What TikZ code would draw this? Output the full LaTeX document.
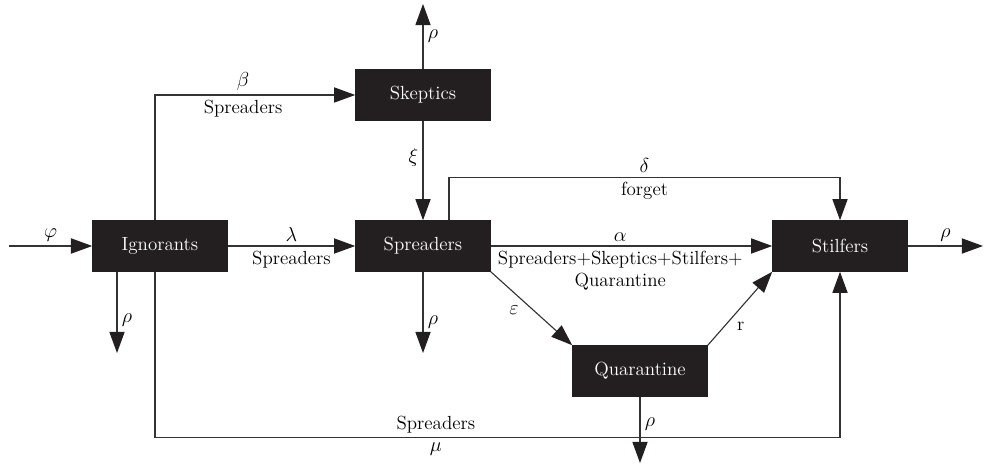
\documentclass[tikz,border=0pt]{standalone}
\usepackage{amsmath}
\usepackage{tikz}
\usetikzlibrary{calc,arrows.meta}
\definecolor{boxfill}{HTML}{231F20}
\definecolor{linegray}{HTML}{333333}

\begin{document}
\begin{tikzpicture}[x=0.025cm,y=-0.025cm,
    font=\fontsize{13.5}{16}\selectfont,
    comp/.style={fill=boxfill,text=white,minimum width=3.375cm,minimum height=1.275cm,inner sep=0pt},
    flow/.style={draw=linegray,line width=0.8pt,-{Triangle[length=0.53cm,width=0.38cm,color=boxfill]}},
    lab/.style={inner sep=3pt}]

        \useasboundingbox (0,0) rectangle (984,464);

        % Les compartiments
        \node[comp] (ign) at (160,246) {Ignorants};
        \node[comp] (skep) at (423,95) {Skeptics};
        \node[comp] (spr) at (423,246) {Spreaders};
        \node[comp] (stil) at (840,246) {Stilfers};
        \node[comp] (quar) at (640,371) {Quarantine};

        % Extrémités libres des flèches
        \coordinate (in) at (9,246);
        \coordinate (out) at (983,246);
        \coordinate (ign-d) at (117,353);
        \coordinate (spr-d) at (423,353);
        \coordinate (skep-u) at (423,4);
        \coordinate (quar-d) at (640,463);

        % Entrée et sorties
        \draw[flow] (in) -- (ign) node[lab,midway,above] {$\varphi$};
        \draw[flow] (ign.south -| ign-d) -- (ign-d) node[lab,pos=0.6,right] {$\rho$};
        \draw[flow] (skep) -- (skep-u) node[lab,midway,right] {$\rho$};
        \draw[flow] (spr) -- (spr-d) node[lab,pos=0.62,right] {$\rho$};
        \draw[flow] (quar) -- (quar-d) node[lab,pos=0.42,right] {$\rho$};
        \draw[flow] (stil) -- (out) node[lab,midway,above] {$\rho$};

        % Transitions entre compartiments
        \draw[flow] ($(ign.north)+(-5,0)$) |- (skep.west)
            node[lab,pos=0.72,above] {$\beta$} node[lab,pos=0.72,below] {Spreaders};
        \draw[flow] (ign) -- (spr)
            node[lab,midway,above] {$\lambda$} node[lab,midway,below] {Spreaders};
        \draw[flow] (skep) -- (spr) node[lab,pos=0.37,left] {$\xi$};
        \draw[flow] (spr) -- (stil)
            node[lab,pos=0.46,above] {$\alpha$}
            node[lab,pos=0.46,below,align=center] {Spreaders+Skeptics+Stilfers+\\Quarantine};
        \draw[flow] ($(spr.north)+(26,0)$) -- ++(0,-43) -| (stil.north)
            node[lab,pos=0.25,above] {$\delta$} node[lab,pos=0.25,below] {forget};
        \draw[flow] (spr.south east) -- (quar.north west) node[lab,pos=0.4,below left] {$\varepsilon$};
        \draw[flow] (quar.north east) -- (stil.south west) node[lab,pos=0.38,below right] {r};
        \draw[flow] ($(ign.south)+(-5,0)$) -- ++(0,166) -| (stil.south)
            node[lab,pos=0.205,above] {Spreaders} node[lab,pos=0.205,below] {$\mu$};
    \end{tikzpicture}
\end{document}
